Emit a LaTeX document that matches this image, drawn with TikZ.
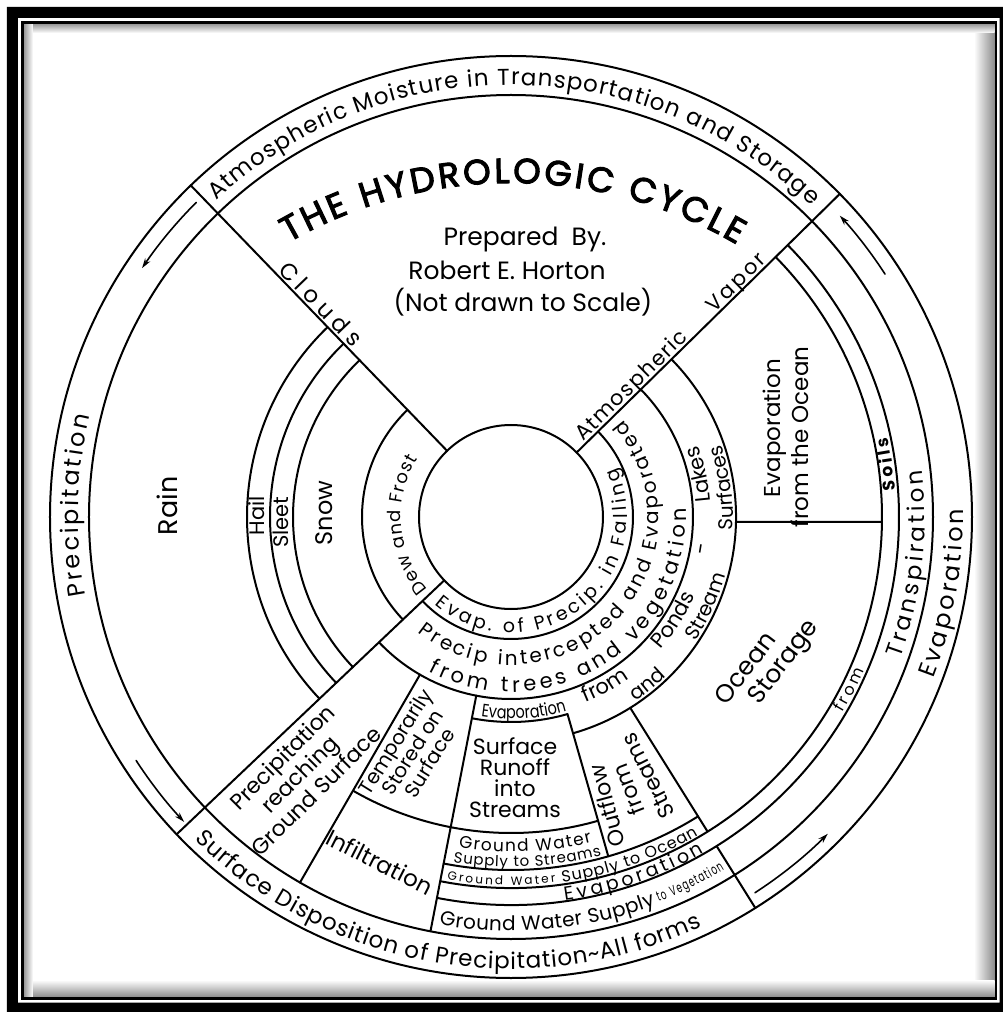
\documentclass[tikz,border=0pt]{standalone}
\usepackage{fontspec}
\setmainfont{Poppins}
\newfontfamily\narrowfont{Poppins}[FakeStretch=0.8]
\newfontfamily\vnarrowfont{Poppins}[FakeStretch=0.62]
\newfontfamily\titlefont{Poppins}[FakeBold=3]
\usetikzlibrary{decorations.text,arrows.meta}

% text along an arc centred on the origin
\newcommand{\ringtext}[7][fit to path]{%
  \path[decorate,decoration={text along path,text align={#1},
    text={|#2\fontsize{#3}{#3}\selectfont|#7}}]
    (#5:#4) arc[start angle=#5,end angle=#6,radius=#4];}
% text along a straight radial line
\newcommand{\linetext}[5]{%
  \path[decorate,decoration={text along path,text align={fit to path},
    text={|\fontsize{#1}{#1}\selectfont|#5}}] (#2:#3) -- (#2:#4);}

\begin{document}
\begin{tikzpicture}[x=1pt,y=1pt,line width=2pt,line cap=round,
  arr/.style={line width=1.6pt,-{Stealth[length=10pt,width=6pt]}},
  txt/.style={inner sep=0pt,font=\fontsize{#1}{#1}\selectfont}]
\useasboundingbox (-511,517) rectangle (492,-495);
\clip (-511,517) rectangle (492,-495);
% ---------- frame ----------
\fill[white] (-511,517) rectangle (492,-495);
\fill[black,even odd rule] (-504,510) rectangle (500,-505) (-493,499) rectangle (488.5,-485.5);
\shade[left color=white,right color=black!45] (463,493) rectangle (483.5,-480);
\shade[top color=white,bottom color=black!45] (-487,-463) rectangle (483.5,-480);
\shade[top color=black!40,bottom color=white] (-487,493) rectangle (483.5,484);
\shade[left color=black!40,right color=white] (-487,493) rectangle (-478,-480);
\draw[line width=2.5pt] (-488.5,494.5) rectangle (485,-481.5);

% ---------- circles and arcs ----------
\draw (0,0) circle[radius=461];
\draw (0,0) circle[radius=422];
\draw (0,0) circle[radius=92];
\draw (-101:388) arc[start angle=-101,end angle=44.5,radius=388];
\draw (-101:371) arc[start angle=-101,end angle=44.5,radius=371];
\draw (-101:353) arc[start angle=-101,end angle=-58,radius=353];
\draw (-120:316) arc[start angle=-120,end angle=-74,radius=316];
\draw (-101:205) arc[start angle=-101,end angle=-74,radius=205];
\draw (-74:225) arc[start angle=-74,end angle=44.5,radius=225];
\draw (-136.5:182) arc[start angle=-136.5,end angle=44.5,radius=182];
\draw (-136.5:122) arc[start angle=-136.5,end angle=44.5,radius=122];
\foreach \r in {264,241,218,149}
  \draw (134:\r) arc[start angle=134,end angle=223.5,radius=\r];

% ---------- spokes ----------
\draw (134:92) -- (134:461);
\draw (44.5:92) -- (44.5:461);
\draw (223.5:92) -- (223.5:461);
\draw (-120:182) -- (-120:422);
\draw (-101:182) -- (-101:422);
\draw (-74:205) -- (-74:353);
\draw (-58:225) -- (-58:371);
\draw (-58:388) -- (-58:461);
\draw (-1.27:225) -- (-0.77:371);

% ---------- arrows in the outer band ----------
\draw[arr] (135:445) arc[start angle=135,end angle=146,radius=445];
\draw[arr] (213:447) arc[start angle=213,end angle=223,radius=447];
\draw[arr] (-57:448) arc[start angle=-57,end angle=-45,radius=448];
\draw[arr] (33:446) arc[start angle=33,end angle=42.5,radius=446];

% ---------- curved texts ----------
\ringtext{}{23}{432}{133}{46}{Atmospheric Moisture in Transportation and Storage}
\ringtext{}{24}{433}{190.5}{166.5}{Precipitation}
\ringtext{}{23}{452}{-134.5}{-65}{Surface Disposition of Precipitation{\textasciitilde}All forms}
\ringtext{}{24}{452}{-21}{1}{Evaporation}
\ringtext{}{23}{414}{-20}{6.5}{Transpiration}
\ringtext{}{16}{385}{-30.5}{-23.5}{from}
\ringtext{\bfseries}{17}{385}{4}{12}{Soils}
\ringtext{}{19}{387}{-82}{-60}{Evaporation}
\ringtext{}{20}{414}{-100}{-69.5}{Ground Water Supply}
\ringtext{\vnarrowfont}{14}{412}{-69}{-58.8}{to Vegetation}
\ringtext{}{12}{368}{-100}{-83}{Ground Water}
\ringtext{}{16}{369}{-82}{-59.5}{Supply to Ocean}
\ringtext{}{17}{335}{-99}{-76}{Ground Water}
\ringtext{}{15}{350}{-99.5}{-75}{Supply to Streams}
\ringtext{\narrowfont}{18}{202}{-98.5}{-74.3}{Evaporation}
\ringtext[fit to path stretching spaces]{}{21}{200}{-68}{21}{from Ponds - Lakes}
\ringtext[fit to path stretching spaces]{}{20}{222}{-56}{19}{and Stream Surfaces}
\ringtext{}{20}{148}{-129}{41}{Precip intercepted and Evaporated}
\ringtext{}{21}{175}{-118}{3}{from trees and vegetation}
\ringtext{}{19}{116}{-131}{25}{Evap. of Precip. in Falling}
\ringtext{}{18}{110}{221}{148}{Dew and Frost}
\begin{scope}[shift={(0,-111)}]
  \ringtext{\titlefont}{35}{445}{120}{59.5}{THE HYDROLOGIC CYCLE}
\end{scope}

% ---------- texts along spokes ----------
\begin{scope}[shift={(44:3)}]
  \linetext{23}{134}{339}{231}{Clouds}
\end{scope}
\begin{scope}[shift={(134.5:3)}]
  \linetext{21}{44.5}{104}{252}{Atmospheric}
  \linetext{21}{44.5}{288}{362}{Vapor}
\end{scope}

% ---------- straight labels ----------
\node[txt=25] (prep) at (14,277) {Prepared\ \ By.};
\node[txt=25] (horton) at (-4,247) {Robert E. Horton};
\node[txt=25] (scale) at (12,215) {(Not drawn to Scale)};
\node[txt=27,rotate=90] (rain) at (-344,11) {Rain};
\node[txt=21,rotate=90] (hail) at (-254,1) {Hail};
\node[txt=21,rotate=90] (sleet) at (-230,-5) {Sleet};
\node[txt=24,rotate=90] (snow) at (-187,4) {Snow};
\node[txt=23,rotate=90] (evo1) at (264,89) {Evaporation};
\node[txt=23,rotate=90] (evo2) at (289,80) {from the Ocean};
\node[txt=25,rotate=53] (ocean) at (234,-151) {Ocean};
\node[txt=25,rotate=53] (storage) at (274,-146) {Storage};
\node[txt=22,rotate=105] (outflow) at (96,-289) {Outflow};
\node[txt=22,rotate=111] (ofrom) at (117,-273) {from};
\node[txt=22,rotate=117] (ostreams) at (137,-259) {Streams};
\node[inner sep=0pt,align=center,font=\fontsize{22}{21}\selectfont] (runoff) at (4,-261) {Surface\\Runoff\\into\\Streams};
\node[inner sep=0pt,align=center,rotate=58,font=\fontsize{20}{20}\selectfont] (temp) at (-99,-235) {Temporarily\\Stored on\\Surface};
\node[inner sep=0pt,align=center,rotate=45,font=\fontsize{22}{24}\selectfont] (prg) at (-212,-257) {Precipitation\\reaching\\Ground Surface};
\node[txt=23,rotate=-27] (infil) at (-131,-345) {Infiltration};
\end{tikzpicture}
\end{document}
